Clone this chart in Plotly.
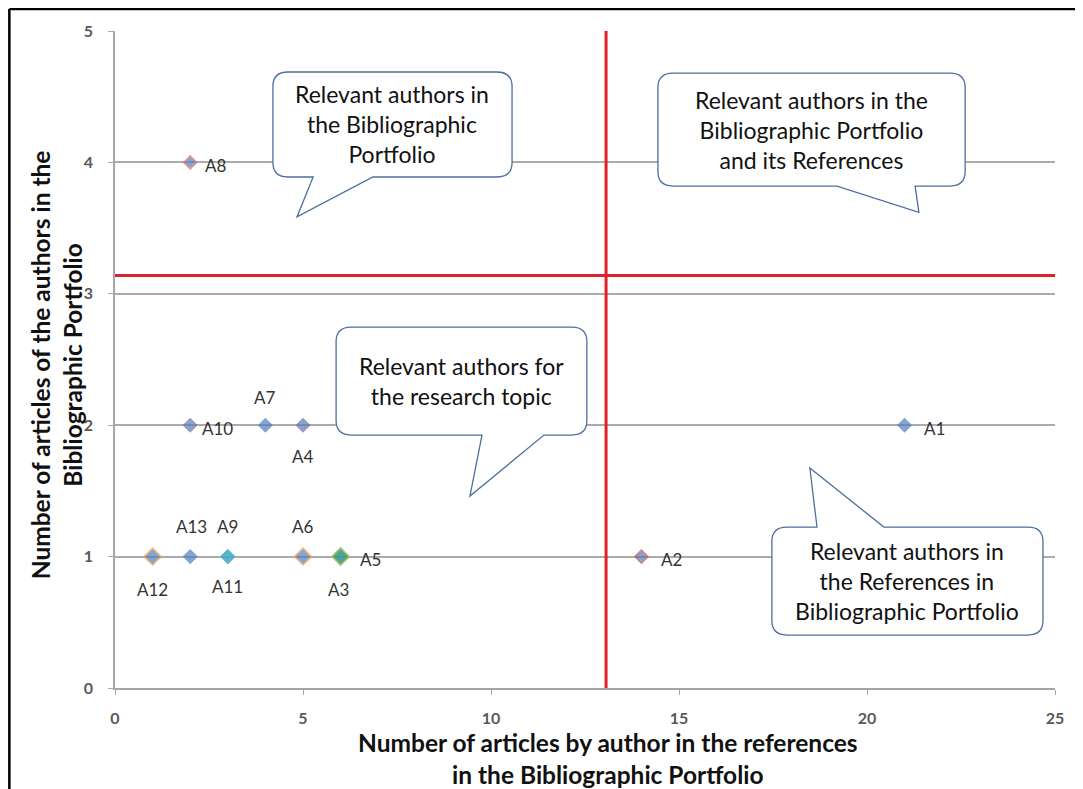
import plotly.graph_objects as go

# ---- data ----
authors = ["A1", "A2", "A3", "A4", "A5", "A6", "A7", "A8", "A9", "A10", "A11", "A12", "A13"]
refs_articles = [21, 14, 6, 5, 6, 5, 4, 2, 3, 2, 3, 1, 2]   # x
bp_articles = [2, 1, 1, 2, 1, 1, 2, 4, 1, 2, 1, 1, 1]       # y
mean_refs = 13.06
mean_bp = 3.14
x_ticks = [0, 5, 10, 15, 20, 25]
y_ticks = [0, 1, 2, 3, 4, 5]

# ---- styles ----
fill_col = {"A1": "#4F81BD", "A2": "#4F81BD", "A3": "#3E9C8C", "A4": "#4F81BD", "A5": "#3E9C8C",
            "A6": "#4F81BD", "A7": "#4F81BD", "A8": "#4F81BD", "A9": "#4BACC6", "A10": "#4F81BD",
            "A11": "#4BACC6", "A12": "#4F81BD", "A13": "#4F81BD"}
line_col = {"A1": "#4F81BD", "A2": "#C0504D", "A3": "#9BBB59", "A4": "#8064A2", "A5": "#9BBB59",
            "A6": "#F79646", "A7": "#4F81BD", "A8": "#E06666", "A9": "#4BACC6", "A10": "#8064A2",
            "A11": "#4BACC6", "A12": "#F79646", "A13": "#4F81BD"}
msize = {"A6": 13, "A12": 13, "A3": 13, "A5": 13}
label_pos = {"A1": (30, -3), "A2": (30, -3), "A3": (-2, -33), "A4": (0, -31), "A5": (30, -3),
             "A6": (0, 30), "A7": (0, 28), "A8": (26, -3), "A9": (0, 30), "A10": (27, -3),
             "A11": (0, -30), "A12": (0, -33), "A13": (1, 30)}

FONT = "Lato, 'Open Sans', sans-serif"

fig = go.Figure()
fig.add_trace(go.Scatter(
    x=refs_articles, y=bp_articles, mode="markers",
    marker=dict(symbol="diamond", size=[msize.get(a, 10) for a in authors],
                color=[fill_col[a] for a in authors],
                line=dict(color=[line_col[a] for a in authors], width=1.5)),
    text=authors, hoverinfo="text+x+y", showlegend=False, cliponaxis=False))

annotations = []
for a, xv, yv in zip(authors, refs_articles, bp_articles):
    dx, dy = label_pos[a]
    annotations.append(dict(x=xv, y=yv, xref="x", yref="y", text=a, showarrow=False,
                            xshift=dx, yshift=dy, font=dict(family=FONT, size=17, color="#333333")))

shapes = []
# reference (mean) lines
shapes.append(dict(type="line", xref="x", yref="y", x0=mean_refs, x1=mean_refs, y0=-0.03, y1=5,
                   line=dict(color="#E0202A", width=3), layer="above"))
shapes.append(dict(type="line", xref="x", yref="y", x0=0, x1=25, y0=mean_bp, y1=mean_bp,
                   line=dict(color="#E0202A", width=3), layer="above"))


def callout(x0, x1, y0, y1, side, b0, b1, tx, ty, rx=0.4, ry=0.11):
    # box x0<x1, y0 (bottom) < y1 (top); tail on 'bottom' or 'top' edge between b0,b1 -> tip
    p = [f"M {x0+rx},{y1}"]
    if side == "top":
        p += [f"L {b0},{y1}", f"L {tx},{ty}", f"L {b1},{y1}"]
    p += [f"L {x1-rx},{y1}", f"Q {x1},{y1} {x1},{y1-ry}", f"L {x1},{y0+ry}",
          f"Q {x1},{y0} {x1-rx},{y0}"]
    if side == "bottom":
        p += [f"L {b1},{y0}", f"L {tx},{ty}", f"L {b0},{y0}"]
    p += [f"L {x0+rx},{y0}", f"Q {x0},{y0} {x0},{y0+ry}", f"L {x0},{y1-ry}",
          f"Q {x0},{y1} {x0+rx},{y1}", "Z"]
    return dict(type="path", xref="x", yref="y", path=" ".join(p), fillcolor="white",
                line=dict(color="#4E6F9C", width=1.3), layer="above")


callouts = [
    (4.20, 10.56, 3.889, 4.688, "bottom", 5.27, 6.86, 4.84, 3.585,
     "Relevant authors in<br>the Bibliographic<br>Portfolio"),
    (14.44, 22.61, 3.82, 4.68, "bottom", 19.20, 21.28, 21.38, 3.62,
     "Relevant authors in the<br>Bibliographic Portfolio<br>and its References"),
    (5.88, 12.55, 1.925, 2.747, "bottom", 9.76, 11.41, 9.44, 1.461,
     "Relevant authors for<br>the research topic"),
    (17.47, 24.68, 0.403, 1.225, "top", 18.67, 20.45, 18.48, 1.674,
     "Relevant authors in<br>the References in<br>Bibliographic Portfolio"),
]
for (x0, x1, y0, y1, side, b0, b1, tx, ty, txt) in callouts:
    shapes.append(callout(x0, x1, y0, y1, side, b0, b1, tx, ty))
    annotations.append(dict(x=(x0 + x1) / 2, y=(y0 + y1) / 2, xref="x", yref="y", text=txt,
                            showarrow=False, align="center",
                            font=dict(family=FONT, size=23, color="#111111")))

# outer frame (left and top edges)
shapes.append(dict(type="line", xref="paper", yref="paper", x0=-0.1124, x1=-0.1124, y0=-0.2,
                   y1=1.0335, line=dict(color="black", width=2.5)))
shapes.append(dict(type="line", xref="paper", yref="paper", x0=-0.1124, x1=1.05, y0=1.0335,
                   y1=1.0335, line=dict(color="black", width=2.5)))

# axis titles
annotations.append(dict(xref="paper", yref="paper", x=0.5245, y=-0.1073, yanchor="middle",
                        text="<b>Number of articles by author in the references<br>in the Bibliographic Portfolio</b>",
                        showarrow=False, align="center",
                        font=dict(family=FONT, size=24.5, color="#111111")))
annotations.append(dict(xref="paper", yref="paper", x=-0.0625, y=0.4916, xanchor="center",
                        yanchor="middle",
                        text="<b>Number of articles of the authors in the<br>Bibliographic Portfolio</b>",
                        showarrow=False, textangle=-90, align="center",
                        font=dict(family=FONT, size=24.5, color="#111111")))

fig.update_layout(
    width=1075, height=781,
    margin=dict(l=107, r=28, t=23, b=101),
    paper_bgcolor="white", plot_bgcolor="white",
    shapes=shapes, annotations=annotations,
    xaxis=dict(range=[0, 25], tickvals=x_ticks, showgrid=False, zeroline=False,
               showline=True, linecolor="#A6A6A6", linewidth=1.5, ticks="outside",
               tickcolor="#A6A6A6", ticklen=5, ticklabelstandoff=10,
               tickfont=dict(family=FONT, size=16, color="#595959", weight="bold"),
               fixedrange=True),
    yaxis=dict(range=[0, 5], tickvals=y_ticks, showgrid=True, gridcolor="#ABABAB", gridwidth=1.5,
               zeroline=False, showline=True, linecolor="#A6A6A6", linewidth=1.5,
               ticks="outside", tickcolor="#A6A6A6", ticklen=5, ticklabelstandoff=12,
               tickfont=dict(family=FONT, size=16, color="#595959", weight="bold"),
               fixedrange=True),
)

fig.write_html("out.html")
